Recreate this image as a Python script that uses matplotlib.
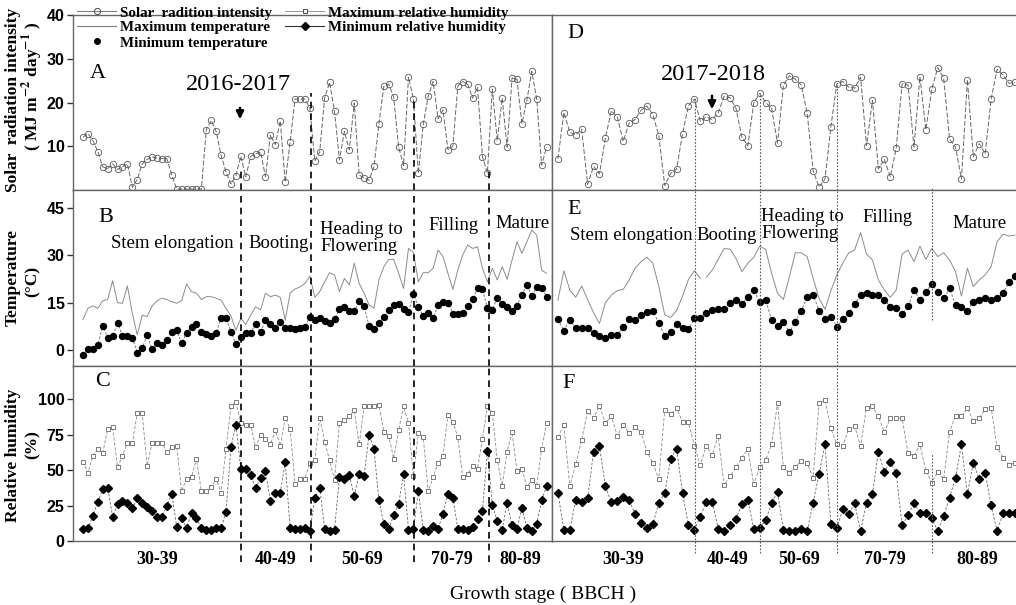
import numpy as np
import matplotlib.pyplot as plt
from matplotlib.lines import Line2D

plt.rcParams['font.family'] = 'Liberation Serif'
plt.rcParams['mathtext.fontset'] = 'stix'

# ---- 2016-2017 season (daily values) ----
solar_1617 = [12.1, 12.9, 11.3, 8.8, 5.3, 4.9, 6.0, 4.7, 5.3, 6.0, 0.6, 2.4, 6.0, 7.0, 7.6, 7.3, 7.2, 7.2, 3.4,
              0.2, 0.2, 0.2, 0.2, 0.2, 0.2,
              13.8, 15.9, 13.4, 7.9, 4.1, 1.4, 3.3, 7.7, 3.0, 7.7, 8.3, 8.7, 3.0, 12.6, 10.4, 15.8, 1.8, 11.0,
              20.8, 20.8, 20.8, 18.7,
              6.6, 8.7, 21.1, 24.6, 18.0, 6.9, 13.4, 9.2, 19.9, 3.4, 2.8, 2.2, 5.4, 15.1, 23.7, 24.2, 21.2, 9.8,
              5.6, 25.8, 20.8, 3.8, 15.1, 21.4, 24.8, 16.3, 18.3, 9.2, 10.0, 23.8, 24.8, 24.2, 21.0, 23.5, 7.6,
              3.9, 23.1, 11.3, 21.0, 9.8, 25.6, 25.3, 15.2, 20.5, 27.1, 20.8, 5.7, 9.8]
tmax_1617 = [9.7, 13.2, 14.0, 13.2, 15.6, 16.0, 21.9, 15.0, 14.8, 20.3, 11.6, 4.8, 11.0, 10.6, 13.9, 15.6, 16.4,
             16.0, 15.3, 14.8, 15.6, 20.9, 18.5, 18.0, 16.0, 16.9, 16.9, 16.4, 15.8, 13.2, 10.8, 6.3, 10.0, 8.1,
             11.0, 13.7, 12.7, 18.0, 16.9, 17.4, 16.7, 9.5, 18.0, 19.3, 20.0, 21.1,
             23.4, 16.7, 18.5, 21.6, 24.5, 23.8, 18.5, 22.7, 20.6, 27.5, 21.1, 18.0, 14.3, 13.2, 22.2, 26.4,
             28.7, 28.7, 24.3, 19.5, 32.2, 30.9, 21.6, 24.5, 24.5, 25.9, 31.7, 29.6, 24.3, 19.2, 25.3, 30.1,
             33.3, 32.2, 32.7, 25.9, 21.6, 25.9, 22.2, 26.4, 22.4, 28.5, 34.3, 30.6, 34.3, 38.0, 36.4, 25.3, 24.3]
tmin_1617 = [-1.6, 0.2, 0.4, 1.6, 7.7, 3.9, 4.3, 8.7, 4.4, 4.3, 3.9, -0.8, 0.6, 4.6, 0.4, 2.3, 1.7, 3.2, 5.7,
             6.2, 2.1, 5.5, 7.4, 8.1, 5.8, 5.0, 4.5, 5.3, 10.2, 10.2, 5.8, 1.8, 4.0, 5.3, 5.5, 8.2, 5.6, 9.5,
             8.2, 7.1, 9.0, 6.9, 6.9, 6.7, 6.9, 7.2,
             10.6, 9.5, 10.2, 9.3, 8.4, 9.7, 12.9, 13.7, 12.3, 12.4, 15.5, 13.9, 7.7, 6.5, 8.7, 10.6, 12.7,
             14.3, 14.5, 13.1, 12.0, 17.8, 13.5, 10.8, 11.8, 10.0, 14.2, 15.2, 14.9, 11.5, 11.3, 11.8, 13.8,
             16.1, 19.5, 19.3, 13.3, 12.8, 16.6, 14.5, 13.6, 12.5, 14.0, 17.5, 20.7, 17.0, 20.0, 19.7, 16.9]
rhmax_1617 = [56, 48, 60, 65, 62, 79, 80, 52, 60, 69, 69, 90, 90, 53, 69, 69, 69, 63, 66, 67,
              35, 44, 45, 58, 35, 35, 38, 44, 34, 65, 95, 98, 83, 82, 82, 66, 75, 72, 68, 78,
              67, 87, 79, 40, 44, 44, 55, 57, 87, 70, 57, 43, 83, 85, 88, 92, 68, 95, 95, 95,
              96, 77, 74, 58, 78, 95, 83, 46, 76, 73, 35, 45, 55, 60, 89, 84, 73, 45, 47, 53,
              51, 72, 95, 90, 57, 39, 63, 77, 49, 51, 38, 43, 39, 65, 83]
rhmin_1617 = [8.2, 9, 17.6, 27.8, 36.5, 37.6, 17.2, 26, 28, 27, 23, 30, 27, 24, 21, 17, 17, 25, 33, 10,
              16, 9, 20, 16, 9.4, 8, 8, 9, 9, 20.7, 66, 82, 50.6, 50.4, 46.6, 37, 44.5, 49, 28.5, 33.6,
              34, 55.5, 9, 8.2, 8.2, 9, 7, 30, 37.4, 8.7, 7.3, 8, 45, 43.5, 46.4, 31.8, 47.3, 46, 75, 65,
              28.7, 12, 8.7, 18, 26, 47, 8, 8.7, 35, 8, 7, 10.6, 8.7, 19, 33.4, 30.6, 8.7, 8.7, 7.5, 9.6,
              15.3, 21.4, 63.5, 25.4, 14, 8, 27, 11, 8.7, 23.5, 9, 7.3, 12, 29, 38.4]

# ---- 2017-2018 season (daily values) ----
solar_1718 = [7.1, 17.7, 13.2, 12.6, 13.9, 1.3, 5.4, 3.7, 11.9, 18.1, 16.7, 11.1, 15.3, 16.1, 18.2, 19.2, 17.2,
              12.4, 1.0, 3.8, 4.8, 12.9, 19.3, 20.8, 15.7, 16.7, 16.1, 17.6, 21.4, 21.1, 18.7, 12.1, 10.1, 19.9,
              22.1, 20.0, 18.7, 10.7,
              24.0, 26.1, 25.3, 24.0, 17.6, 4.4, 0.7, 2.5, 14.5, 24.3, 24.8, 23.5, 23.3, 25.8, 10.1, 20.5, 4.8,
              7.0, 3.0, 9.6, 24.3, 24.0, 9.8, 25.9, 13.8, 23.0, 28.0, 25.5, 11.6, 9.8, 2.5, 25.2, 7.6, 10.6,
              8.3, 20.8, 27.6, 26.3, 24.4, 24.6]
tmax_1718 = [15.8, 25.1, 19.0, 16.7, 20.3, 16.0, 11.8, 8.4, 15.0, 17.4, 18.8, 19.2, 22.2, 25.9, 28.0, 29.4, 27.5,
             20.1, 11.1, 10.3, 12.5, 17.1, 22.4, 25.1, 22.7, 23.0, 25.3, 28.7, 32.2, 31.9, 29.0, 24.8, 27.5,
             29.4, 32.9, 31.9, 24.3, 18.0,
             16.0, 23.2, 30.8, 30.8, 29.6, 22.7, 16.4, 12.9, 18.8, 23.8, 27.5, 30.8, 31.7, 37.2, 30.4, 28.5,
             22.2, 19.0, 16.7, 19.0, 30.4, 31.7, 28.0, 32.9, 28.7, 32.2, 29.6, 30.8, 28.5, 24.8, 17.1, 25.9,
             20.1, 22.2, 23.8, 26.4, 34.3, 36.7, 36.1, 36.4]
tmax_1718_gap = 25  # line is broken before this day
tmin_1718 = [9.7, 6.1, 9.5, 6.9, 6.9, 6.9, 5.3, 4.4, 3.9, 4.8, 4.8, 7.2, 9.7, 9.5, 11.1, 12.1, 12.5, 8.4, 4.5,
             5.6, 8.2, 6.9, 6.5, 10.0, 10.0, 11.6, 12.7, 12.9, 13.1, 14.8, 15.8, 14.6, 16.9, 19.0, 15.1, 16.0,
             9.5, 7.7,
             9.0, 5.6, 9.0, 12.5, 16.7, 17.4, 12.5, 9.7, 10.6, 7.4, 9.7, 11.6, 14.6, 17.4, 18.0, 17.4, 17.4,
             16.0, 13.7, 13.2, 11.4, 13.9, 19.0, 16.0, 18.5, 20.8, 18.5, 16.4, 19.5, 14.3, 13.7, 12.5, 15.3,
             16.0, 16.4, 15.8, 16.4, 18.0, 21.6, 23.5]
rhmax_1718 = [73, 82, 38.4, 54, 71.3, 91.3, 87, 94.8, 83, 88, 74, 82, 76, 80, 77, 62.8, 55.3, 43.5, 92.5, 89.4,
              93.4, 84, 83.5, 67, 53.6, 67, 60.5, 74, 39.3, 45.9, 51.8, 58.8, 64.7, 40, 51.8, 57, 68, 97, 51.8,
              48.2, 51.8, 56.5, 54.8, 44.7, 97, 99.5, 79.3, 68, 67, 78.8, 81, 67, 94, 94.8, 88, 76.5, 86.6, 87,
              86.4, 62, 60, 68, 49.4, 41.2, 48.7, 43.5, 77, 88, 88, 93.4, 84.7, 86.4, 93, 94, 66, 58.8, 53.4, 55.3]
rhmin_1718 = [34, 7.8, 7.8, 29, 27.5, 30, 63, 66.6, 38.4, 27.5, 28.2, 31.3, 29, 18.8, 13, 9.4, 12.2, 27, 33.6, 58,
              65, 33.6, 11, 7.8, 17.2, 27.8, 27.5, 8.7, 7, 11.5, 15.3, 26, 28.7, 8.7, 9, 14.6, 26.6, 34.6, 7.8, 7,
              7, 8.7, 7, 27, 47, 68, 11.8, 9, 22.4, 18.8, 26.6, 7, 27, 33, 62.8, 48.7, 55.8, 47.8, 11, 18,
              27, 19.5, 19.5, 16.5, 7, 17.6, 30.6, 44.7, 68, 33, 55.3, 43.5, 47.8, 25.2, 7, 19.5, 19.5, 20]

# stage boundaries (day index) and BBCH labels
stages_1617 = [32, 46.2, 67.1, 82.3]
stages_1718 = [23.1, 34.1, 47, 63.1]
bbch_labels = ['30-39', '40-49', '50-69', '70-79', '80-89']
stage_names = ['Stem elongation', 'Booting', 'Heading to\nFlowering', 'Filling', 'Mature']

W, H = 1016, 605
fig = plt.figure(figsize=(W / 100, H / 100), dpi=100)


def box(l, t, r, b):
    return [l / W, 1 - b / H, (r - l) / W, (b - t) / H]


def ftext(x, y, s, **kw):
    fig.text(x / W, 1 - y / H, s, **kw)


rows = [(15, 190), (190, 366), (366, 541)]
cols = [(73, 552), (552, 1022)]
xlims = [(-2.03, 95.1), (-1.0, 78.2)]
ylims = [(0, 40), (-5.07, 50.7), (0, 123.3)]
yticks = [[10, 20, 30, 40], [0, 15, 30, 45], [0, 25, 50, 75, 100]]

seasons = [
    dict(solar=solar_1617, tmax=tmax_1617, tmin=tmin_1617, rhmax=rhmax_1617, rhmin=rhmin_1617,
         stages=stages_1617, gap=None),
    dict(solar=solar_1718, tmax=tmax_1718, tmin=tmin_1718, rhmax=rhmax_1718, rhmin=rhmin_1718,
         stages=stages_1718, gap=tmax_1718_gap),
]

spine_col = '#666666'
axes = [[None, None] for _ in range(3)]

for c, (season, (l, r)) in enumerate(zip(seasons, cols)):
    for rI, (t, b) in enumerate(rows):
        ax = fig.add_axes(box(l, t, r, b))
        axes[rI][c] = ax
        ax.set_xlim(*xlims[c])
        ax.set_ylim(*ylims[rI])
        for sp in ax.spines.values():
            sp.set_color(spine_col)
            sp.set_linewidth(1.0)
        ax.set_yticks(yticks[rI])
        if c == 0:
            ax.tick_params(axis='y', direction='out', length=4, width=1, color='#333333', pad=2)
            for lab in ax.get_yticklabels():
                lab.set_fontfamily('Liberation Sans')
                lab.set_fontweight('bold')
                lab.set_fontsize(11.5)
        else:
            ax.tick_params(axis='y', left=False, labelleft=False)
        edges = [xlims[c][0]] + season['stages'] + [xlims[c][1]]
        mids = [(edges[k] + edges[k + 1]) / 2 for k in range(len(edges) - 1)]
        ax.set_xticks(mids)
        if rI == 2:
            ax.set_xticklabels(bbch_labels, fontweight='bold', fontsize=13)
            ax.tick_params(axis='x', length=0, pad=7.5)
        else:
            ax.tick_params(axis='x', length=0, labelbottom=False)

    x = np.arange(len(season['solar']))
    axA, axB, axC = axes[0][c], axes[1][c], axes[2][c]

    axA.plot(x, season['solar'], color='0.4', lw=0.7, dashes=(5, 2), marker='o', ms=4.6,
             mfc='none', mec='0.35', mew=0.6)

    g = season['gap']
    if g is None:
        axB.plot(x, season['tmax'], color='0.55', lw=0.7)
    else:
        axB.plot(x[:g], season['tmax'][:g], color='0.55', lw=0.7)
        axB.plot(x[g:], season['tmax'][g:], color='0.55', lw=0.7)
    axB.plot(x, season['tmin'], color='0.4', lw=0.6, dashes=(3, 2), marker='o', ms=4.3,
             mfc='black', mec='black')

    axC.plot(x, season['rhmax'], color='0.55', lw=0.6, dashes=(4, 2), marker='s', ms=3.4,
             mfc='white', mec='0.4', mew=0.6)
    axC.plot(x, season['rhmin'], color='0.4', lw=0.6, dashes=(3, 2), marker='D', ms=3.8,
             mfc='black', mec='black')

# stage boundary lines
tops_1617 = [170, 93, 100, 170]
for xs, top in zip(stages_1617, tops_1617):
    kw = dict(color='black', lw=1.2, ls=(0, (4, 3)))
    axes[0][0].axvline(xs, ymin=0, ymax=(190 - top) / 175, **kw)
    axes[1][0].axvline(xs, **kw)
    axes[2][0].axvline(xs, ymin=-(562 - 541) / 175, ymax=1, clip_on=False, **kw)

tops_1718 = [98, 93, 85, 188]
for k, (xs, top) in enumerate(zip(stages_1718, tops_1718)):
    kw = dict(color='0.35', lw=0.8, ls=(0, (1.5, 1.5)))
    axes[0][1].axvline(xs, ymin=0, ymax=(190 - top) / 175, **kw)
    if k == 3:
        axes[1][1].axvline(xs, ymin=(366 - 320) / 176, ymax=1, **kw)
        axes[2][1].axvline(xs, ymin=-(553 - 541) / 175, ymax=(541 - 453) / 175, clip_on=False, **kw)
    else:
        axes[1][1].axvline(xs, **kw)
        axes[2][1].axvline(xs, ymin=-(553 - 541) / 175, ymax=1, clip_on=False, **kw)

# panel letters
for s, (px, py) in zip('ABCDEF', [(98, 74), (106, 217), (103, 381), (575, 33), (574, 210), (569, 383)]):
    ftext(px, py, s, fontsize=16, ha='center', va='center')

# stage names
stage_pos_1617 = [(111, 244), (248, 244), (320, 238), (428, 225), (495, 224)]
stage_pos_1718 = [(570, 235), (696, 235), (761, 225), (862, 218), (952, 224)]
for pos in (stage_pos_1617, stage_pos_1718):
    for name, (px, py) in zip(stage_names, pos):
        ftext(px, py, name, fontsize=13.5, ha='left', va='center', linespacing=1.05)

# season labels and arrows
ftext(238, 84, '2016-2017', fontsize=17.5, ha='center', va='center')
ftext(713, 74, '2017-2018', fontsize=17.5, ha='center', va='center')
for ax_, (xa, y0, y1) in [(axes[0][0], (240, 105, 122)), (axes[0][1], (712, 93, 112))]:
    ax_.annotate('', xy=(xa, H - y1), xytext=(xa, H - y0), xycoords='figure pixels',
                 textcoords='figure pixels',
                 arrowprops=dict(arrowstyle='-|>', color='black', lw=1.8, mutation_scale=11))

# y axis titles
lab = dict(fontsize=12.5, fontweight='bold', rotation=90, ha='center', va='center')
ftext(13, 100, 'Solar  radiation intensity', **lab)
ftext(33, 86, r'( MJ m$^{\mathbf{-2}}$ day$^{\mathbf{-1}}$ )', **lab)
ftext(13, 278, 'Temperature', **lab)
ftext(33, 281, '(°C)', **lab)
ftext(13, 455, 'Relative humidity', **lab)
ftext(33, 445, '(%)', **lab)

ftext(543, 594, 'Growth stage ( BBCH )', fontsize=14, ha='center', va='center')

# legend
handles = [
    Line2D([], [], color='0.5', lw=0.8, marker='o', ms=4.5, mfc='none', mec='0.3', mew=0.7),
    Line2D([], [], color='0.5', lw=0.8),
    Line2D([], [], ls='none', marker='o', ms=4, mfc='black', mec='black'),
    Line2D([], [], color='0.6', lw=0.7, marker='s', ms=3.5, mfc='white', mec='0.3', mew=0.7),
    Line2D([], [], color='0.2', lw=0.8, marker='D', ms=3.8, mfc='black', mec='black'),
]
labels = ['Solar  radition intensity', 'Maximum temperature', 'Minimum temperature',
          'Maximum relative humidity', 'Minimum relative humidity']
fig.legend(handles, labels, ncol=2, loc='upper left', bbox_to_anchor=(77 / W, 1 - 6 / H),
           frameon=False, prop={'family': 'Liberation Serif', 'weight': 'bold', 'size': 10.8},
           handlelength=2.6, handletextpad=0.25, columnspacing=0.9, labelspacing=0.1,
           borderpad=0, borderaxespad=0)

fig.savefig('out.png', dpi=100)
